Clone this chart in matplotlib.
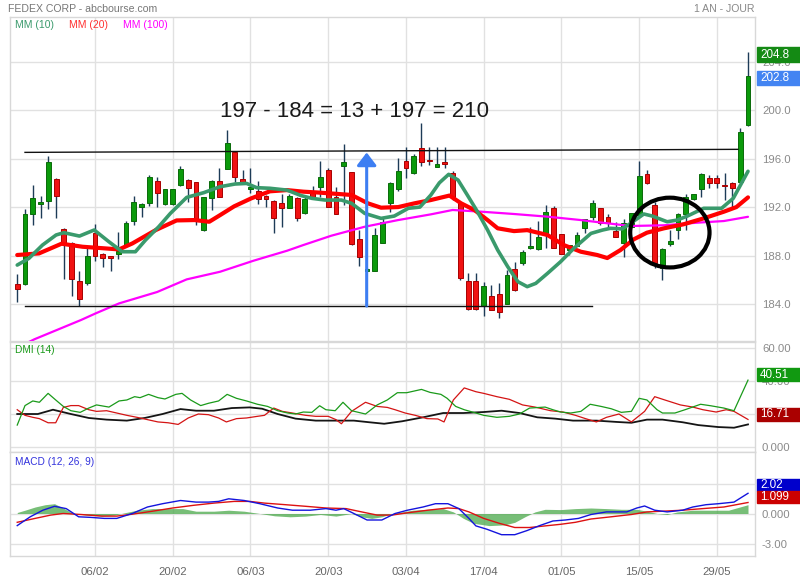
import matplotlib
matplotlib.use("Agg")
import matplotlib.pyplot as plt
from matplotlib.patches import Ellipse, Rectangle
import numpy as np

plt.rcParams['font.family'] = ['Liberation Sans', 'DejaVu Sans']

# ---------------- data ----------------
date_labels = ["06/02", "20/02", "06/03", "20/03", "03/04", "17/04", "01/05", "15/05", "29/05"]
date_label_idx = [10, 20, 30, 40, 50, 60, 70, 80, 90]

opens = [185.66, 185.68, 191.40, 192.25, 192.53, 194.29, 190.16, 189.06, 185.90, 185.76,
         189.89, 188.10, 187.96, 188.10, 188.84, 190.85, 191.98, 192.31, 194.15, 192.22,
         192.22, 193.79, 194.20, 194.04, 190.11, 192.72, 194.15, 195.11, 196.51, 194.29,
         193.46, 193.32, 192.91, 192.50, 192.31, 191.90, 192.72, 191.50, 193.21, 193.68,
         195.05, 192.85, 195.41, 194.86, 189.34, 186.75, 186.75, 189.01, 192.31, 193.46,
         195.80, 194.78, 196.84, 195.85, 195.27, 195.69, 194.83, 192.31, 185.93, 185.93,
         183.84, 184.67, 184.83, 183.98, 186.87, 187.36, 188.65, 188.51, 189.89, 191.90,
         189.75, 188.46, 188.79, 190.25, 191.21, 191.90, 191.15, 190.05, 189.01, 190.38,
         191.34, 194.72, 192.17, 186.95, 188.93, 190.11, 191.40, 192.64, 193.47, 194.42,
         194.42, 193.77, 194.00, 194.09, 198.76]
highs = [186.48, 191.84, 193.82, 192.94, 196.21, 194.40, 190.25, 189.10, 186.73, 188.60,
         190.57, 188.20, 188.00, 189.97, 190.88, 192.91, 192.30, 194.64, 194.50, 193.50,
         193.50, 195.38, 194.31, 194.10, 192.80, 194.23, 195.19, 198.35, 196.60, 195.05,
         195.19, 194.15, 193.00, 192.60, 193.08, 193.10, 192.80, 192.80, 193.73, 195.80,
         195.25, 193.68, 197.17, 194.90, 190.11, 186.95, 190.30, 191.21, 194.09, 196.02,
         196.92, 196.35, 198.90, 196.98, 196.98, 196.92, 195.00, 192.35, 186.53, 186.53,
         185.85, 185.57, 185.71, 186.81, 187.50, 188.46, 190.38, 190.85, 192.17, 192.09,
         189.80, 188.90, 189.97, 191.00, 192.58, 191.95, 191.43, 190.79, 191.01, 191.50,
         195.82, 195.05, 192.44, 188.60, 190.11, 191.53, 193.08, 193.10, 194.80, 194.64,
         194.64, 194.78, 194.10, 198.54, 204.80]
lows = [184.20, 185.60, 190.52, 191.07, 191.87, 191.07, 186.04, 184.67, 183.87, 185.55,
        187.58, 187.08, 186.75, 187.69, 188.73, 190.55, 191.20, 192.11, 192.03, 192.20,
        192.20, 193.70, 192.44, 190.52, 190.05, 191.76, 192.80, 195.10, 194.09, 193.96,
        193.19, 192.22, 191.98, 189.83, 190.33, 191.90, 190.88, 191.40, 192.72, 192.85,
        192.00, 191.40, 192.17, 188.90, 187.17, 186.70, 186.75, 189.00, 191.57, 193.32,
        194.37, 194.70, 195.41, 195.47, 195.27, 195.19, 192.58, 186.00, 183.55, 183.55,
        183.04, 183.50, 182.83, 183.98, 185.10, 187.22, 188.51, 188.50, 188.60, 188.60,
        188.10, 188.05, 188.79, 189.83, 190.93, 190.50, 190.33, 189.50, 187.91, 190.30,
        191.30, 193.90, 186.95, 185.99, 188.79, 189.34, 190.10, 192.60, 192.85, 193.55,
        193.55, 192.58, 191.90, 194.05, 198.70]
closes = [185.27, 191.40, 192.72, 192.44, 195.69, 192.94, 189.06, 186.04, 184.40, 187.96,
          187.96, 187.77, 187.77, 188.38, 190.68, 192.39, 192.22, 194.45, 193.13, 193.46,
          193.46, 195.11, 193.60, 190.93, 192.80, 194.17, 192.80, 197.25, 194.45, 194.09,
          193.68, 192.64, 192.64, 191.12, 191.90, 192.94, 191.12, 192.70, 192.85, 194.48,
          192.03, 191.45, 195.69, 188.93, 187.91, 186.90, 189.70, 190.79, 193.96, 194.97,
          195.19, 196.21, 195.69, 195.80, 195.52, 195.52, 192.85, 186.12, 183.59, 183.59,
          185.49, 183.51, 183.32, 186.40, 185.16, 188.32, 188.79, 189.50, 191.59, 188.60,
          188.13, 188.87, 189.67, 190.99, 192.31, 190.72, 190.66, 189.50, 190.66, 191.48,
          194.56, 193.96, 187.36, 188.54, 189.20, 191.43, 192.80, 193.05, 194.70, 194.00,
          194.00, 193.73, 193.60, 198.16, 202.80]

mm10_x = [0, 1.5, 3.25, 5, 6, 8, 9.9, 11.8, 13.5, 15.2, 16.5, 18.2, 19.7, 21.8, 24, 26.1,
          28, 29.5, 30.8, 32.5, 34.7, 36.5, 37.9, 39.6, 41.7, 43, 44.7, 46.8, 48.5, 50.3,
          51.8, 53.2, 54.3, 55.5, 56.7, 57.9, 59.2, 60.5, 61.8, 63.1, 64.4, 65.6, 66.7, 68.2,
          69.9, 71.6, 73.8, 75.3, 76.3, 77.8, 78.9, 80.6, 81.7, 83.6, 84.9, 86.2, 88.3, 90.6,
          92.1, 94]
mm10_y = [187.22, 187.77, 188.87, 189.70, 189.89, 189.61, 190.11, 189.14, 188.32, 188.32,
          189.28, 190.38, 191.48, 192.80, 193.19, 193.68, 193.90, 193.95, 193.60, 193.55,
          193.40, 192.95, 192.72, 192.58, 192.58, 192.31, 191.48, 191.07, 191.26, 191.90,
          192.00, 192.99, 194.00, 194.70, 194.23, 192.99, 191.62, 190.11, 188.46, 187.08,
          185.85, 185.44, 185.71, 186.53, 187.50, 188.60, 189.83, 190.11, 190.25, 190.20,
          190.66, 191.43, 191.26, 190.79, 190.93, 191.26, 191.90, 191.90, 192.72, 194.95]

mm20_x = [0, 2.8, 5.7, 8.4, 13.1, 14.8, 17.8, 20.5, 22.8, 24.7, 26.1, 27.9, 30.1, 32.5,
          34.7, 36.8, 38.7, 41.3, 43, 45.1, 46.8, 49, 51.1, 53.2, 55.6, 57.1, 58.8, 60.5,
          61.8, 63.9, 65.6, 68.2, 70.3, 72.5, 74.6, 75.9, 77.6, 79.3, 81, 83.2, 85.7, 88.3,
          90.9, 92.5, 94]
mm20_y = [188.05, 188.18, 188.98, 188.73, 188.51, 189.00, 190.10, 190.90, 190.93, 190.79,
          191.34, 192.06, 192.72, 193.30, 193.40, 193.27, 193.20, 193.08, 193.00, 192.31,
          191.95, 192.00, 192.31, 192.58, 192.95, 192.31, 191.76, 190.93, 190.25, 190.02,
          190.10, 189.70, 188.87, 188.32, 188.05, 187.80, 188.46, 189.34, 189.89, 190.25,
          190.58, 191.07, 191.62, 192.00, 192.80]

mm100_x = [0, 2.2, 8.2, 10.1, 13.1, 18, 21.8, 26.1, 30.4, 34.7, 36.8, 40.4, 44.7, 49, 53.2,
           56, 59.7, 63.9, 68.2, 72.5, 75.3, 78.9, 83.2, 87.4, 90.9, 94]
mm100_y = [180.40, 181.10, 182.69, 183.24, 184.06, 185.00, 186.04, 186.67, 187.58, 188.40,
           188.87, 189.64, 190.38, 190.93, 191.40, 191.76, 191.62, 191.43, 191.21, 190.93,
           190.71, 190.44, 190.50, 190.71, 190.85, 191.20]

# DMI (14)
dmi_plus_x = [0, 1.0, 2.0, 2.85, 3.97, 4.95, 5.93, 6.9, 8.1, 9.2, 10.2, 11.8, 13.1, 14.1,
              15.1, 15.8, 16.9, 18.1, 19.0, 20.4, 21.2, 22.3, 23.6, 24.6, 25.9, 27.0, 28.2,
              29.5, 30.9, 32.2, 33.5, 34.8, 35.8, 36.8, 37.9, 38.9, 39.7, 40.9, 41.9, 43.0,
              44.8, 46.3, 47.6, 48.9, 50.1, 52.0, 53.1, 54.5, 55.3, 56.4, 57.5, 59.0, 60.0,
              61.7, 63.3, 64.6, 65.9, 67.9, 68.9, 69.9, 71.2, 72.5, 73.7, 75.1, 76.4, 77.7,
              79.0, 80.0, 81.0, 82.3, 83.0, 84.6, 85.9, 87.9, 89.2, 90.9, 92.2, 94]
dmi_plus_y = [13.3, 25.1, 27.9, 27.1, 32.5, 28.5, 24.6, 22.0, 21.0, 23.6, 25.5, 24.2, 27.9,
              28.5, 30.5, 29.9, 31.9, 29.9, 29.1, 31.9, 32.5, 28.5, 25.1, 26.5, 27.9, 31.9,
              29.5, 27.9, 25.9, 24.6, 22.0, 20.6, 20.0, 21.2, 21.0, 25.0, 22.6, 22.0, 27.1,
              22.0, 20.0, 25.5, 28.5, 32.9, 32.9, 34.9, 33.1, 31.9, 29.5, 24.6, 22.6, 20.6,
              19.2, 18.0, 18.6, 20.0, 23.6, 24.2, 22.6, 21.2, 20.6, 21.6, 25.9, 24.6, 23.2,
              21.0, 21.6, 29.5, 28.5, 22.6, 20.6, 20.6, 22.6, 25.9, 25.0, 23.6, 22.0, 40.51]
dmi_minus_x = [0, 1.0, 2.0, 2.85, 3.97, 4.95, 5.93, 6.9, 7.9, 9.2, 10.2, 11.5, 12.8, 14.1,
               15.4, 16.75, 18.1, 19.4, 20.7, 22.0, 23.3, 24.6, 25.9, 26.9, 28.2, 29.5, 30.9,
               31.8, 33.0, 34.1, 35.4, 37.1, 38.4, 40.0, 41.0, 41.7, 43.0, 44.8, 46.3, 47.6,
               48.6, 49.9, 51.2, 52.7, 54.1, 54.9, 56.1, 57.5, 59.0, 60.0, 61.7, 63.3, 65.0,
               66.6, 68.6, 70.2, 71.8, 73.1, 74.5, 75.8, 77.4, 79.0, 80.7, 82.0, 83.3, 85.3,
               86.9, 88.2, 89.9, 91.2, 92.2, 94]
dmi_minus_y = [22.6, 19.2, 18.0, 17.2, 14.7, 14.7, 24.0, 25.1, 25.1, 22.6, 21.6, 22.0, 20.6,
               19.2, 18.0, 16.6, 15.2, 14.7, 13.7, 17.6, 20.0, 19.6, 17.6, 15.2, 17.2, 17.6,
               18.6, 19.2, 23.6, 21.6, 20.6, 19.2, 18.6, 18.6, 16.6, 14.1, 21.6, 27.1, 24.6,
               24.0, 22.6, 20.6, 19.2, 17.2, 17.0, 15.2, 28.5, 35.8, 33.5, 32.5, 30.5, 28.9,
               25.5, 24.2, 22.0, 21.2, 19.2, 17.2, 15.2, 18.0, 20.0, 15.2, 21.6, 30.5, 28.5,
               25.5, 24.2, 22.6, 21.2, 22.6, 21.6, 16.71]
adx_x = [0, 2.65, 4.6, 6.9, 9.2, 11.5, 14.1, 16.4, 18.7, 21.0, 23.0, 25.3, 27.6, 29.9, 31.5,
         33.5, 35.8, 38.4, 41.0, 43.3, 45.3, 47.2, 49.5, 52.2, 54.8, 57.4, 60.0, 62.3, 64.6,
         66.9, 69.2, 71.5, 74.5, 77.1, 79.0, 81.0, 83.0, 85.6, 87.6, 90.2, 92.2, 94]
adx_y = [20.0, 20.0, 22.6, 20.0, 17.6, 16.6, 16.0, 17.6, 20.0, 23.0, 22.0, 22.0, 23.6, 24.0,
         23.2, 20.0, 17.2, 16.0, 16.0, 16.0, 15.0, 14.1, 15.6, 18.0, 20.6, 20.6, 21.2, 22.0,
         20.6, 18.0, 17.2, 16.0, 16.0, 15.2, 14.7, 16.6, 16.6, 15.0, 13.3, 12.1, 11.7, 13.7]

# MACD (12, 26, 9)
macd_x = [0, 1.67, 3.3, 4.8, 6.3, 7.9, 9.5, 11.2, 12.8, 14.8, 16.75, 18.7, 21.0, 23.0, 24.6,
          25.9, 27.2, 29.2, 31.2, 33.5, 35.4, 37.7, 39.7, 41.0, 42.0, 43.3, 45.0, 46.9, 48.6,
          50.2, 52.2, 53.8, 55.4, 56.8, 58.1, 59.0, 60.4, 62.3, 64.0, 65.6, 67.2, 68.9, 70.5,
          72.2, 73.8, 75.8, 78.4, 79.7, 80.7, 82.0, 83.6, 85.6, 86.9, 88.6, 90.2, 92.2, 94]
macd_y = [-1.21, -0.33, 0.33, 0.72, 0.49, -0.33, -0.39, -0.49, -0.49, 0.00, 0.65, 0.98, 1.30,
          1.14, 1.14, 1.21, 1.47, 1.30, 0.98, 0.55, 0.33, 0.33, 0.49, 0.33, 0.49, 0.00, -0.65,
          -0.65, 0.00, 0.33, 0.65, 0.98, 0.98, 0.49, -0.49, -1.24, -1.57, -2.12, -2.12, -1.70,
          -1.21, -0.75, -0.65, -0.49, -0.10, 0.16, 0.16, 0.55, 0.75, 0.33, 0.16, 0.33, 0.65,
          0.88, 0.98, 1.14, 2.02]
signal_x = [0, 2.3, 4.3, 5.9, 8.2, 10.9, 12.8, 14.8, 17.4, 20.0, 22.7, 25.3, 27.9, 29.9, 31.8,
            34.5, 37.1, 39.7, 42.3, 44.3, 46.3, 48.2, 50.2, 52.8, 55.4, 56.8, 58.1, 60.0, 62.0,
            64.0, 65.9, 67.9, 69.9, 71.8, 73.8, 76.4, 79.0, 81.0, 83.0, 85.6, 88.2, 90.9, 94]
signal_y = [-0.88, -0.49, -0.16, 0.00, -0.10, -0.26, -0.26, -0.07, 0.23, 0.55, 0.82, 1.04,
            1.21, 1.21, 1.04, 0.88, 0.72, 0.55, 0.49, 0.16, -0.16, -0.16, 0.07, 0.33, 0.55,
            0.49, 0.16, -0.49, -0.98, -1.40, -1.40, -1.24, -1.08, -0.88, -0.55, -0.33, -0.10,
            0.16, 0.23, 0.33, 0.49, 0.65, 1.099]
hist_x = [0, 1.0, 2.3, 3.6, 4.8, 5.9, 7.2, 8.9, 10.9, 12.5, 13.8, 15.4, 17.4, 19.4, 21.3,
          23.0, 25.3, 27.2, 29.2, 31.2, 33.1, 35.1, 37.1, 39.0, 41.0, 43.0, 44.3, 45.6, 46.9,
          48.2, 49.5, 50.9, 52.8, 54.8, 56.1, 57.4, 58.7, 60.7, 62.7, 64.0, 65.3, 66.6, 67.9,
          69.9, 71.8, 73.8, 75.8, 77.7, 79.7, 81.0, 82.3, 83.6, 84.9, 86.9, 89.5, 91.5, 94]
hist_y = [0.10, 0.33, 0.65, 0.88, 0.98, 0.55, 0.00, -0.16, -0.26, -0.16, 0.07, 0.33, 0.49,
          0.49, 0.49, 0.23, 0.23, 0.33, 0.23, 0.00, -0.23, -0.33, -0.26, -0.10, -0.26, 0.00,
          -0.33, -0.49, -0.33, 0.00, 0.16, 0.33, 0.42, 0.49, 0.16, -0.49, -0.98, -1.21, -1.14,
          -0.88, -0.33, 0.16, 0.42, 0.39, 0.49, 0.55, 0.49, 0.42, 0.42, 0.23, 0.00, -0.10,
          0.16, 0.33, 0.33, 0.33, 0.88]

# user drawings on the chart
top_line = ([1.0, 92.7], [196.51, 196.76])
bottom_line = ([1.0, 73.9], [183.84, 183.84])
arrow_x, arrow_from, arrow_to = 44.95, 183.84, 196.5
circle_center, circle_w, circle_h = (83.95, 189.9), 10.2, 5.75
note_text, note_pos = "197 - 184 = 13 + 197 = 210", (43.4, 199.85)

# ---------------- layout ----------------
W, H = 800, 580
fig = plt.figure(figsize=(W / 100, H / 100), dpi=100)
fig.patch.set_facecolor('white')


def axes_px(x0, y0, x1, y1):
    return fig.add_axes([x0 / W, 1 - y1 / H, (x1 - x0) / W, (y1 - y0) / H])


ax = axes_px(10, 17, 755, 341)
ax_dmi = axes_px(10, 342, 755, 452)
ax_macd = axes_px(10, 452, 755, 556)

XLIM = (-0.93, 94.9)
GRID = '#e1e1e1'
LBL = '#8a8a8a'

for a in (ax, ax_dmi, ax_macd):
    a.set_xlim(*XLIM)
    a.set_xticks(date_label_idx)
    a.grid(True, color=GRID, lw=1, zorder=0)
    a.set_axisbelow(True)
    for s in a.spines.values():
        s.set_color('#d8d8d8')
        s.set_linewidth(1)
    a.yaxis.tick_right()
    a.tick_params(axis='both', length=0, labelsize=8.2, labelcolor=LBL)
    a.tick_params(axis='y', pad=5)

ax.set_xticklabels([])
ax_dmi.set_xticklabels([])
ax_macd.set_xticklabels(date_labels)
ax_macd.tick_params(axis='x', pad=8, labelcolor='#666666')

# ---------------- main price panel ----------------
ax.set_ylim(180.96, 207.67)
ax.set_yticks([184, 188, 192, 196, 200, 204])
ax.set_yticklabels(['184.0', '188.0', '192.0', '196.0', '200.0', '204.0'])

idx = np.arange(len(opens))
o = np.array(opens)
c = np.array(closes)
hi = np.array(highs)
lo = np.array(lows)
up = c >= o
body_bottom = np.minimum(o, c)
body_h = np.maximum(np.abs(c - o), 0.09)

ax.vlines(idx, lo, hi, color='#1d3b57', lw=1.0, zorder=2)
ax.bar(idx[up], body_h[up], bottom=body_bottom[up], width=0.62,
       color='#0b9a0b', edgecolor='#0a6a0a', lw=0.7, zorder=3)
ax.bar(idx[~up], body_h[~up], bottom=body_bottom[~up], width=0.62,
       color='#f01212', edgecolor='#a80000', lw=0.7, zorder=3)

ax.plot(mm100_x, mm100_y, color='#ff00ff', lw=1.6, zorder=4, solid_capstyle='round')
ax.plot(mm20_x, mm20_y, color='#ff0000', lw=3.0, zorder=5, solid_capstyle='round')
ax.plot(mm10_x, mm10_y, color='#3a9a6c', lw=2.6, zorder=6, solid_capstyle='round')

ax.plot(*top_line, color='#111111', lw=1.0, zorder=7)
ax.plot(*bottom_line, color='#111111', lw=1.0, zorder=7)
ax.annotate('', xy=(arrow_x, arrow_to), xytext=(arrow_x, arrow_from),
            arrowprops=dict(arrowstyle='-|>,head_length=0.55,head_width=0.42',
                            color='#3d7ef2', lw=2.2, mutation_scale=14,
                            shrinkA=0, shrinkB=0), zorder=8)
ax.add_patch(Ellipse(circle_center, circle_w, circle_h, fill=False,
                     ec='black', lw=3.0, zorder=9))
ax.text(*note_pos, note_text, fontsize=16, color='#1a1a1a', ha='center', va='center', zorder=9)

# ---------------- DMI panel ----------------
ax_dmi.set_ylim(-3.0, 63.6)
ax_dmi.set_yticks([0, 20, 40, 60])
ax_dmi.set_yticklabels(['0.000', '', '40.00', '60.00'])
ax_dmi.plot(adx_x, adx_y, color='#151515', lw=1.3, zorder=3)
ax_dmi.plot(dmi_minus_x, dmi_minus_y, color='#d41414', lw=0.9, zorder=4)
ax_dmi.plot(dmi_plus_x, dmi_plus_y, color='#1a9a1a', lw=0.9, zorder=5)

# ---------------- MACD panel ----------------
ax_macd.set_ylim(-4.25, 6.15)
ax_macd.set_yticks([-3, 0, 3])
ax_macd.set_yticklabels(['-3.00', '0.000', '3.00'])
ax_macd.fill_between(hist_x, 0, hist_y, color='#4aa84a', alpha=0.75, lw=0, zorder=2)
ax_macd.plot(signal_x, signal_y, color='#dd1111', lw=1.0, zorder=3)
ax_macd.plot(macd_x, macd_y, color='#1414dd', lw=1.0, zorder=4)

# ---------------- texts ----------------
fig.text(8 / W, 1 - 9.5 / H, 'FEDEX CORP - abcbourse.com', fontsize=7.6, color='#777777',
         ha='left', va='center')
fig.text(755 / W, 1 - 9.5 / H, '1 AN - JOUR', fontsize=7.6, color='#888888',
         ha='right', va='center')
fig.text(15 / W, 1 - 25.5 / H, 'MM (10)', fontsize=7.5, color='#3a9a6c', ha='left', va='center')
fig.text(69 / W, 1 - 25.5 / H, 'MM (20)', fontsize=7.5, color='#ff3030', ha='left', va='center')
fig.text(123 / W, 1 - 25.5 / H, 'MM (100)', fontsize=7.5, color='#ff00ff', ha='left', va='center')
fig.text(15 / W, 1 - 350 / H, 'DMI (14)', fontsize=7.3, color='#1a9a1a', ha='left', va='center')
fig.text(15 / W, 1 - 462 / H, 'MACD (12, 26, 9)', fontsize=7.3, color='#3333dd',
         ha='left', va='center')


def value_box(yc, txt, color, h=14):
    fig.patches.append(Rectangle((757 / W, 1 - (yc + h / 2) / H), 43 / W, h / H,
                                 transform=fig.transFigure, color=color, zorder=5))
    fig.text(760 / W, 1 - yc / H, txt, color='white', fontsize=8.4, ha='left', va='center',
             zorder=6)


value_box(54.5, '204.8', '#148a14')
value_box(78, '202.8', '#4384f2')
value_box(374.7, '40.51', '#119911', h=13)
value_box(414, '16.71', '#aa0000', h=13)
value_box(484.7, '2.02', '#0000cc', h=12)
value_box(496.5, '1.099', '#cc0000', h=12)

fig.savefig('out.png', dpi=100, facecolor='white')
